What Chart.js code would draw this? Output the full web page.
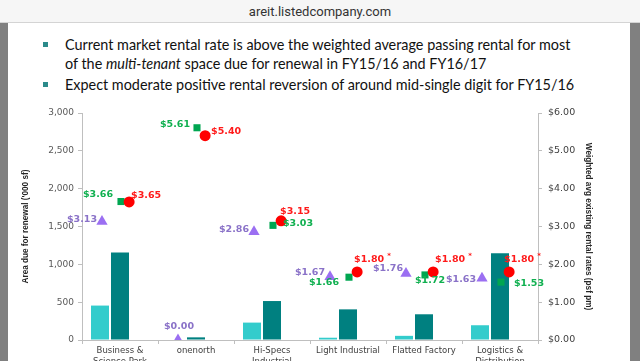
<!DOCTYPE html>
<html>
<head>
<meta charset="utf-8">
<script src="https://cdn.jsdelivr.net/npm/chart.js@4.4.0/dist/chart.umd.min.js"></script>
<style>
  html, body { margin: 0; padding: 0; width: 640px; height: 361px; overflow: hidden; background: #fff; }
  #topbar { position: absolute; left: 0; top: 0; width: 640px; height: 22px; background: #f6f6f6;
    border-bottom: 1px solid #d4d4d4; font: 13px Roboto, 'Liberation Sans', sans-serif; color: #333;
    text-align: center; line-height: 23px; }
  .frame { position: absolute; top: 23px; bottom: 0; background: #808080; }
  #fl { left: 0; width: 8px; }
  #fr { left: 630px; width: 10px; }
  .txt { position: absolute; left: 65px; font: 14.4px Lato, sans-serif; color: #111; line-height: 19px; white-space: nowrap; }
  .sq { position: absolute; left: 43px; width: 5px; height: 5px; background: #2b8b8b; }
  #wrap { position: absolute; left: 8px; top: 96px; width: 622px; height: 280px; }
</style>
</head>
<body>
<div id="topbar">areit.listedcompany.com</div>
<div class="frame" id="fl"></div>
<div class="frame" id="fr"></div>
<div class="sq" style="top:42px"></div>
<div class="txt" style="top:35px">Current market rental rate is above the weighted average passing rental for most</div>
<div class="txt" style="top:54px">of the <i>multi-tenant</i> space due for renewal in FY15/16 and FY16/17</div>
<div class="sq" style="top:82px"></div>
<div class="txt" style="top:75px">Expect moderate positive rental reversion of around mid-single digit for FY15/16</div>
<div id="wrap"><canvas id="chart"></canvas></div>
<script>
// categories and values
const categories = [['Business &', 'Science Park'], 'onenorth', ['Hi-Specs', 'Industrial'],
  'Light Industrial', 'Flatted Factory', ['Logistics &', 'Distribution']];
const areaFY1516 = [455, 0, 230, 30, 55, 195];
const areaFY1617 = [1155, 35, 515, 405, 340, 1145];
const rentFY1516 = [3.13, 0.00, 2.86, 1.67, 1.76, 1.63];   // triangles
const rentFY1617 = [3.66, 5.61, 3.03, 1.66, 1.72, 1.53];   // squares
const marketRent = [3.65, 5.40, 3.15, 1.80, 1.80, 1.80];   // circles
const marketNote = ['', '', '', '*', '*', '*'];

// label placement [dx, dy, align] - style only
const triPos = [[-5, -2, 'right'], [1, -13, 'center'], [-5, -2, 'right'], [-5, -4, 'right'], [-3, -5, 'right'], [-6, 1, 'right']];
const sqPos = [[-8, -7, 'right'], [-7, -3, 'right'], [10, -2, 'left'], [-10, 5, 'right'], [-10, 6, 'left'], [13, 1, 'left']];
const circPos = [[2, -6, 'left'], [6, -4, 'left'], [-1, -9, 'left'], [-3, -12, 'left'], [2, -12, 'left'], [-5, -12, 'left']];

// marker offsets inside each category (fraction of category width)
const TRI_OFF = -0.237, SQ_OFF = 0.013, CIRC_OFF = 0.12;
const pts = (vals, off) => vals.map((v, i) => ({ x: i + off, y: v }));

const pointLabels = {
  id: 'pointLabels',
  afterDatasetsDraw(chart) {
    const ctx = chart.ctx;
    ctx.save();
    ctx.textBaseline = 'middle';
    chart.data.datasets.forEach((ds, i) => {
      if (!ds.labelPos) return;
      const meta = chart.getDatasetMeta(i);
      meta.data.forEach((pt, j) => {
        const [dx, dy, align] = ds.labelPos[j];
        const txt = '$' + ds.values[j].toFixed(2);
        ctx.font = 'bold 9.5px "DejaVu Sans"';
        ctx.fillStyle = ds.labelColor;
        ctx.textAlign = align;
        const x = pt.x + dx, y = pt.y + dy;
        ctx.fillText(txt, x, y);
        if (ds.notes && ds.notes[j]) {
          const w = ctx.measureText(txt).width;
          const end = align === 'left' ? x + w : (align === 'right' ? x : x + w / 2);
          ctx.font = 'bold 7px "DejaVu Sans"';
          ctx.textAlign = 'left';
          ctx.fillText(ds.notes[j], end + 3, y - 4);
        }
      });
    });
    ctx.restore();
  }
};

const axisGrid = { drawOnChartArea: false, color: '#bfbfbf', tickLength: 4 };
const titleFont = { family: "'Liberation Sans Narrow', 'Liberation Sans'", size: 8.2, weight: 'bold' };

new Chart(document.getElementById('chart'), {
  type: 'bar',
  data: {
    labels: categories,
    datasets: [
      { type: 'scatter', label: 'Market rent', data: pts(marketRent, CIRC_OFF), parsing: false, values: marketRent, notes: marketNote,
        yAxisID: 'y2', pointStyle: 'circle', pointRadius: 5.5, backgroundColor: '#ff0000',
        borderColor: '#ff0000', borderWidth: 0, order: 1, labelPos: circPos, labelColor: '#ff1a1a' },
      { type: 'scatter', label: 'FY16/17 rent', data: pts(rentFY1617, SQ_OFF), parsing: false, values: rentFY1617,
        yAxisID: 'y2', pointStyle: 'rect', pointRadius: 5, backgroundColor: '#00a651',
        borderColor: '#00a651', borderWidth: 0, order: 1, labelPos: sqPos, labelColor: '#10b050' },
      { type: 'scatter', label: 'FY15/16 rent', data: pts(rentFY1516, TRI_OFF), parsing: false, values: rentFY1516,
        yAxisID: 'y2', pointStyle: 'triangle', pointRadius: 6.5, backgroundColor: '#9b6ff2',
        borderColor: '#9b6ff2', borderWidth: 0, order: 1, labelPos: triPos, labelColor: '#8a72c8' },
      { label: 'FY15/16', data: areaFY1516, backgroundColor: '#33cccc', yAxisID: 'y', order: 2,
        categoryPercentage: 0.79, barPercentage: 0.9 },
      { label: 'FY16/17', data: areaFY1617, backgroundColor: '#008080', yAxisID: 'y', order: 2,
        categoryPercentage: 0.79, barPercentage: 0.9 },
      { label: '', data: [], yAxisID: 'y', order: 2,
        categoryPercentage: 0.79, barPercentage: 0.9 }
    ]
  },
  options: {
    responsive: true,
    maintainAspectRatio: false,
    animation: false,
    layout: { padding: { top: 17, left: 0, right: 0, bottom: 0 } },
    plugins: { legend: { display: false }, tooltip: { enabled: false } },
    scales: {
      x: {
        type: 'category',
        grid: { ...axisGrid, offset: true },
        border: { color: '#bfbfbf' },
        ticks: { color: '#404040', font: { family: 'DejaVu Sans', size: 8.5 }, padding: 2, maxRotation: 0, autoSkip: false },
        afterFit: s => { s.height = 36; }
      },
      y: {
        position: 'left', min: 0, max: 3000,
        grid: axisGrid, border: { color: '#bfbfbf' },
        ticks: { stepSize: 500, color: '#595959', padding: 4, font: { family: 'DejaVu Sans', size: 9 } },
        title: { display: true, text: "Area due for renewal ('000 sf)", color: '#262626', font: titleFont,
          padding: { top: 13, bottom: 0 } },
        afterFit: s => { s.width = 74; }
      },
      y2: {
        position: 'right', min: 0, max: 6,
        grid: axisGrid, border: { color: '#bfbfbf' },
        ticks: { stepSize: 1, color: '#404040', padding: 6, font: { family: 'DejaVu Sans', size: 9.5 },
          callback: v => '$' + v.toFixed(2) },
        title: { display: true, text: 'Weighted avg existing rental rates (psf pm)', color: '#262626', font: titleFont,
          padding: { top: 37, bottom: 0 } },
        afterFit: s => { s.width = 92; }
      }
    }
  },
  plugins: [pointLabels]
});
</script>
</body>
</html>
